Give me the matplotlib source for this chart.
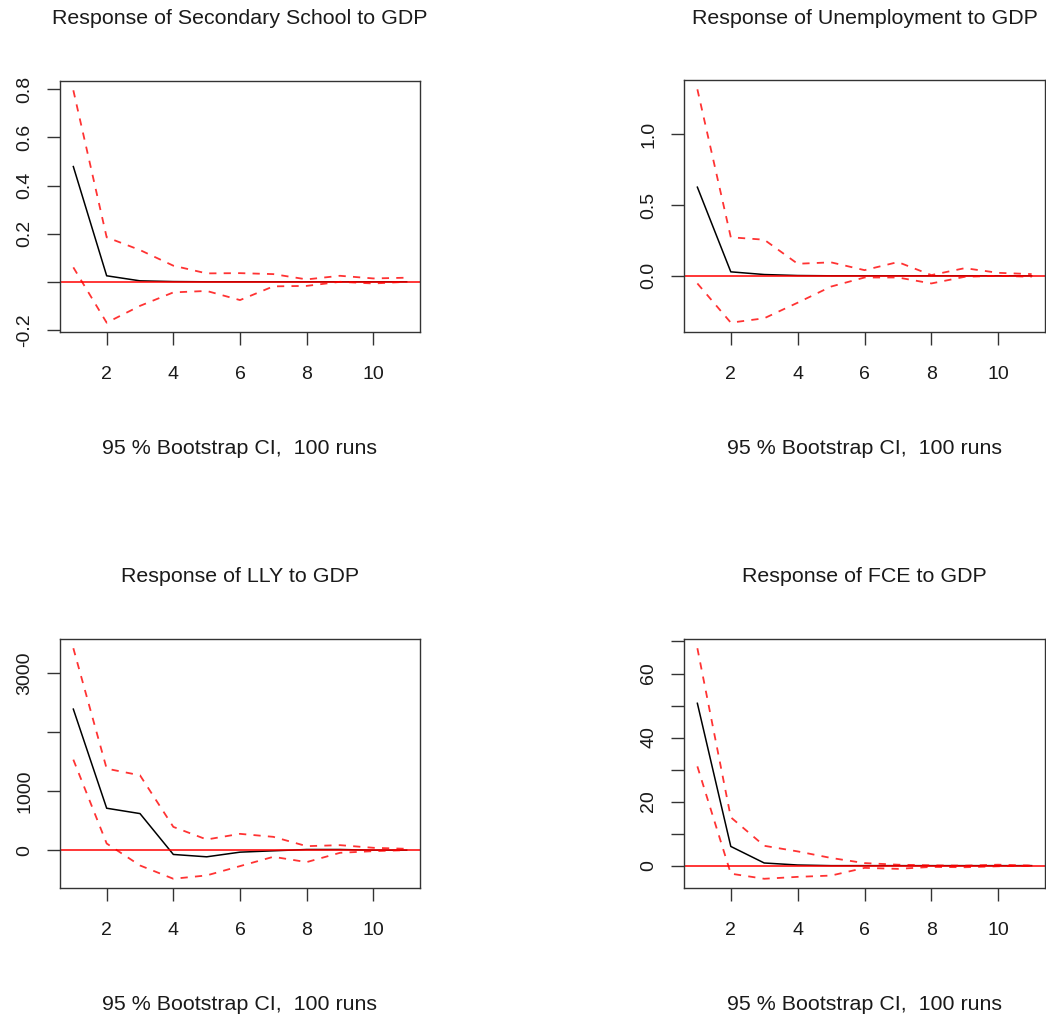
import matplotlib
matplotlib.use("Agg")
import matplotlib.pyplot as plt
import numpy as np

plt.rcParams['font.family'] = ['Liberation Sans', 'DejaVu Sans']

horizon = list(range(1, 12))

titles = ["Response of Secondary School to GDP", "Response of Unemployment to GDP",
          "Response of LLY to GDP", "Response of FCE to GDP"]
xlabel_text = "95 % Bootstrap CI,  100 runs"

# Secondary School
sec_irf = [0.479, 0.025, 0.004, 0.001, 0.0, 0.0, 0.0, 0.0, 0.0, 0.0, 0.0]
sec_upper = [0.796, 0.185, 0.132, 0.067, 0.035, 0.036, 0.032, 0.010, 0.025, 0.014, 0.017]
sec_lower = [0.060, -0.170, -0.100, -0.044, -0.038, -0.076, -0.019, -0.017, 0.0, -0.007, 0.0]
sec_yticks = [-0.2, 0.0, 0.2, 0.4, 0.6, 0.8]
sec_ylabels = ['-0.2', '', '0.2', '0.4', '0.6', '0.8']

# Unemployment
une_irf = [0.626, 0.028, 0.009, 0.002, 0.0, 0.0, 0.0, 0.0, 0.0, 0.0, 0.0]
une_upper = [1.317, 0.272, 0.255, 0.085, 0.095, 0.040, 0.097, 0.005, 0.054, 0.021, 0.012]
une_lower = [-0.054, -0.331, -0.300, -0.190, -0.076, -0.012, -0.012, -0.054, -0.007, 0.0, -0.007]
une_yticks = [0.0, 0.5, 1.0]
une_ylabels = ['0.0', '0.5', '1.0']

# LLY
lly_irf = [2395, 712, 621, -73, -113, -34, -11, 11, 11, 0, 0]
lly_upper = [3429, 1384, 1271, 395, 181, 277, 226, 68, 85, 40, 23]
lly_lower = [1537, 113, -260, -486, -429, -271, -113, -203, -45, -17, 0]
lly_yticks = [0, 1000, 2000, 3000]
lly_ylabels = ['0', '1000', '', '3000']

# FCE
fce_irf = [50.7, 6.0, 0.83, 0.2, 0.0, 0.0, 0.0, 0.0, 0.0, 0.0, 0.0]
fce_upper = [67.9, 15.1, 6.2, 4.45, 2.4, 0.8, 0.3, 0.1, 0.0, 0.3, 0.0]
fce_lower = [31.0, -2.5, -4.1, -3.5, -3.1, -0.7, -1.0, -0.4, -0.5, -0.2, 0.0]
fce_yticks = [0, 10, 20, 30, 40, 50, 60, 70]
fce_ylabels = ['0', '', '20', '', '40', '', '60', '']

xticks = [2, 4, 6, 8, 10]

panels = [
    (sec_irf, sec_upper, sec_lower, sec_yticks, sec_ylabels),
    (une_irf, une_upper, une_lower, une_yticks, une_ylabels),
    (lly_irf, lly_upper, lly_lower, lly_yticks, lly_ylabels),
    (fce_irf, fce_upper, fce_lower, fce_yticks, fce_ylabels),
]

W, H = 1046, 1016
fig = plt.figure(figsize=(W / 100, H / 100), dpi=100)

# axes boxes in pixel coords: (left, right, top, bottom)
boxes = [(60, 420, 81, 332), (684, 1045, 80, 332),
         (60, 420, 639, 888), (684, 1045, 639, 888)]

for (irf, up, lo, yt, yl), (l, r, t, b), title in zip(panels, boxes, titles):
    ax = fig.add_axes([l / W, 1 - b / H, (r - l) / W, (b - t) / H])
    ax.plot(horizon, irf, color='black', lw=1.1)
    ax.plot(horizon, up, color='#ff0000', lw=1.3, dashes=(4, 4), alpha=0.8)
    ax.plot(horizon, lo, color='#ff0000', lw=1.3, dashes=(4, 4), alpha=0.8)
    ax.axhline(0, color='#ff0000', lw=1.1)
    ymin = min(lo + irf + up)
    ymax = max(lo + irf + up)
    pad = 0.04 * (ymax - ymin)
    ax.set_ylim(ymin - pad, ymax + pad)
    ax.set_xlim(1 - 0.4, 11 + 0.4)
    ax.set_xticks(xticks)
    ax.set_xticklabels([str(v) for v in xticks])
    ax.set_yticks(yt)
    ax.set_yticklabels(yl, rotation=90, va='center')
    ax.tick_params(axis='both', direction='out', length=9.4, width=1.0,
                   color='#333333', labelsize=14, labelcolor='#1a1a1a')
    ax.tick_params(axis='x', pad=15)
    ax.tick_params(axis='y', pad=10)
    for s in ax.spines.values():
        s.set_color('#333333')
        s.set_linewidth(1.0)
    ax.annotate(title, xy=(0.5, 1), xycoords='axes fraction', xytext=(0, 62),
                textcoords='offset pixels', ha='center', va='center',
                fontsize=15.4, color='#1a1a1a')
    ax.annotate(xlabel_text, xy=(0.5, 0), xycoords='axes fraction', xytext=(0, -116),
                textcoords='offset pixels', ha='center', va='center',
                fontsize=15.4, color='#1a1a1a')

fig.savefig('out.png', dpi=100, facecolor='white')
